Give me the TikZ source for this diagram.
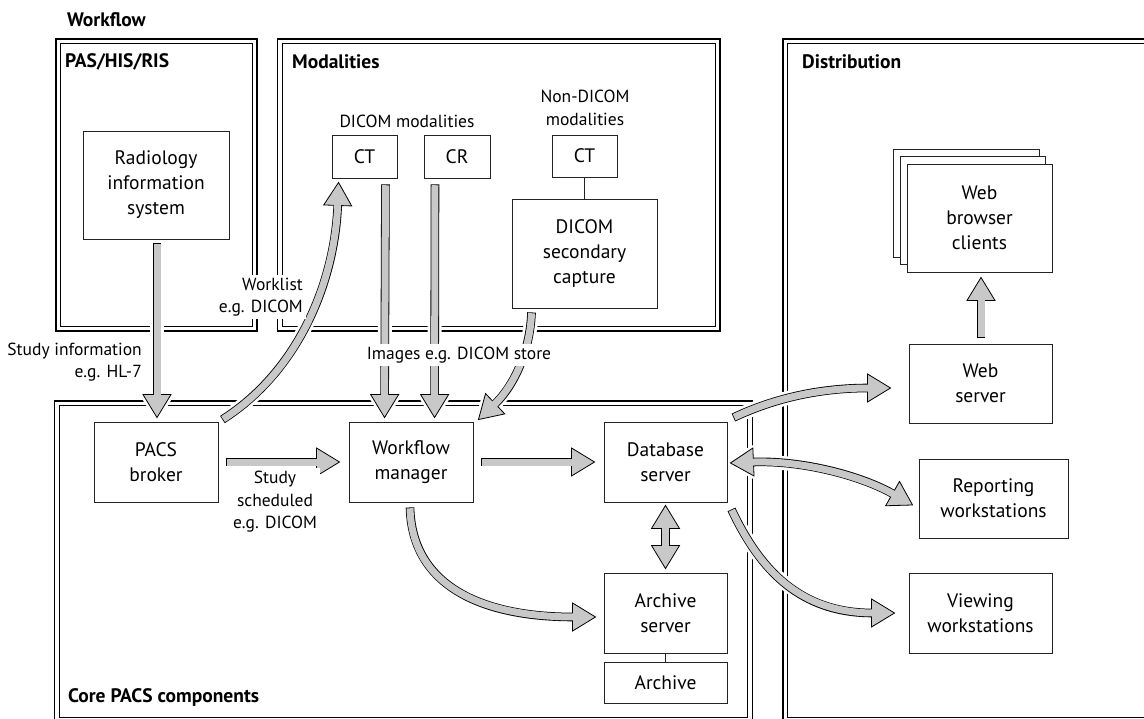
\documentclass[tikz,border=0pt]{standalone}
\usepackage{fontspec}
\setmainfont{PT Sans}
\usetikzlibrary{decorations.markings}
\definecolor{arrowgray}{RGB}{200,200,200}
\definecolor{linegray}{RGB}{35,35,35}

\newcommand\headhalo{\draw[white,line width=6pt,line join=round] (-23pt,-14pt) -- (0pt,0pt) -- (-23pt,14pt) -- cycle;}
\newcommand\headbody{\draw[fill=arrowgray,draw=black,line width=0.8pt,line join=miter] (-23pt,-14pt) -- (0pt,0pt) -- (-23pt,14pt) -- cycle;}
\newcommand\tailhalo{\draw[white,line width=6pt,line join=round] (23pt,-14pt) -- (0pt,0pt) -- (23pt,14pt) -- cycle;}
\newcommand\tailbody{\draw[fill=arrowgray,draw=black,line width=0.8pt,line join=miter] (23pt,-14pt) -- (0pt,0pt) -- (23pt,14pt) -- cycle;}

\newcommand\fatarrow[1]{%
  \path[decorate,decoration={markings,mark=at position 0.99995 with {\headhalo}}] #1;
  \draw[white,line width=14pt,shorten >=19pt] #1;
  \draw[black,line width=8.6pt,shorten >=22pt] #1;
  \path[decorate,decoration={markings,mark=at position 0.99995 with {\headbody}}] #1;
  \draw[arrowgray,line width=7pt,shorten >=20.5pt,shorten <=0.8pt] #1;
}
\newcommand\fatdarrow[1]{%
  \path[decorate,decoration={markings,mark=at position 0.00005 with {\tailhalo},mark=at position 0.99995 with {\headhalo}}] #1;
  \draw[white,line width=14pt,shorten >=19pt,shorten <=19pt] #1;
  \draw[black,line width=8.6pt,shorten >=22pt,shorten <=22pt] #1;
  \path[decorate,decoration={markings,mark=at position 0.00005 with {\tailbody},mark=at position 0.99995 with {\headbody}}] #1;
  \draw[arrowgray,line width=7pt,shorten >=20.5pt,shorten <=20.5pt] #1;
}

\begin{document}
\begin{tikzpicture}[x=1pt,y=-1pt,
  box/.style={draw=linegray,line width=0.9pt,fill=white,align=center,inner sep=0pt,font=\fontsize{19.5}{25}\selectfont},
  wh/.style 2 args={minimum width=#1pt,minimum height=#2pt},
  lbl/.style={align=center,inner sep=3pt,fill=white,font=\fontsize{17.5}{22.5}\selectfont},
  title/.style={anchor=west,inner sep=0pt,font=\bfseries\fontsize{19.5}{22}\selectfont},
  frameout/.style={draw=black,line width=1.6pt},
  framein/.style={draw=black,line width=0.8pt},
  conn/.style={draw=linegray,line width=0.9pt},
]
\useasboundingbox (0,0) rectangle (1144,719);
\clip (0,0) rectangle (1144,719);

% frames
\draw[frameout] (56,39) rectangle (257,331);
\draw[framein] (60.5,43.5) rectangle (252.5,326.5);
\draw[frameout] (277.5,39) rectangle (720,331);
\draw[framein] (282,43.5) rectangle (715.5,326.5);
\draw[frameout] (783,39) rectangle (1150,725);
\draw[framein] (787.5,43.5) rectangle (1145.5,717);
\draw[frameout] (54.5,401) rectangle (752.5,722);
\draw[framein] (59,405.5) rectangle (747.5,717);

% titles
\node[title] (tworkflow) at (67,20) {Workflow};
\node[title] (tpas) at (65,62) {PAS/HIS/RIS};
\node[title] (tmod) at (292,62) {Modalities};
\node[title] (tdist) at (802,62) {Distribution};
\node[title] (tcore) at (68,697) {Core PACS components};

% boxes
\node[box,wh={146}{108}] (rad) at (156,185) {Radiology\\information\\system};
\node[box,wh={124}{80}] (broker) at (156,462) {PACS\\broker};
\node[box,wh={124}{80}] (wm) at (411,462) {Workflow\\manager};
\node[box,wh={123}{80}] (db) at (665.5,462) {Database\\server};
\node[box,wh={123}{80}] (arch) at (665.5,613) {Archive\\server};
\node[box,wh={123}{41}] (archive) at (665.5,682.5) {Archive};
\node[box,wh={143}{79}] (web) at (980.5,383.5) {Web\\server};
\node[box,wh={149}{79}] (rep) at (993.5,498.5) {Reporting\\workstations};
\node[box,wh={143}{80}] (view) at (980.5,613) {Viewing\\workstations};
\node[box,wh={146}{108}] (wbc3) at (966,203) {};
\node[box,wh={145}{108}] (wbc2) at (972.5,210) {};
\node[box,wh={145}{108}] (wbc) at (979.5,218) {Web\\browser\\clients};
\node[box,wh={65}{43}] (ct1) at (364.5,156.5) {CT};
\node[box,wh={66}{43}] (cr) at (457,156.5) {CR};
\node[box,wh={65}{42}] (ct2) at (584.5,156) {CT};
\node[box,wh={145}{109}] (sc) at (584.5,253.5) {DICOM\\secondary\\capture};

% arrows
\fatarrow{([xshift=1pt,yshift=-4pt]rad.south) -- ([xshift=1pt,yshift=4pt]broker.north)}
\fatarrow{([xshift=4pt,yshift=2pt]broker.north east) .. controls (300,370) and (335,280) .. ([xshift=7pt,yshift=-4pt]ct1.south west)}
\fatarrow{([xshift=-12pt,yshift=-6pt]ct1.south east) -- ([xshift=36pt,yshift=4pt]wm.north west)}
\fatarrow{([xshift=-22pt,yshift=-6pt]cr.south) -- ([xshift=86pt,yshift=4pt]wm.north west)}
\fatarrow{([xshift=20pt,yshift=-4pt]sc.south west) .. controls (530,350) and (515,385) .. ([xshift=5pt,yshift=2pt]wm.north east)}
\fatarrow{([xshift=8pt]broker.east) -- ([xshift=-9pt]wm.west)}
\fatarrow{([xshift=8pt]wm.east) -- ([xshift=-9pt]db.west)}
\fatarrow{([xshift=-1pt,yshift=-5pt]wm.south) .. controls (412,585) and (480,617) .. ([xshift=-8pt,yshift=-4pt]arch.west)}
\fatdarrow{([yshift=-3pt]db.south) -- ([yshift=4pt]arch.north)}
\fatarrow{([xshift=6pt,yshift=4pt]db.north east) .. controls (775,398) and (820,388) .. ([xshift=-18pt,yshift=-4.5pt]web.west)}
\fatdarrow{([xshift=3pt,yshift=-1pt]db.east) .. controls (800,460) and (860,475) .. ([xshift=-6pt,yshift=-6.5pt]rep.west)}
\fatarrow{([xshift=4pt,yshift=-7pt]db.south east) .. controls (760,570) and (800,613) .. ([xshift=-14pt]view.west)}
\fatarrow{([xshift=0.5pt,yshift=6pt]web.north) -- ([xshift=1.5pt,yshift=-5pt]wbc.south)}

% boxes redrawn on top (outline restore)
\node[box,wh={146}{108}] at (rad) {Radiology\\information\\system};
\node[box,wh={124}{80}] at (broker) {PACS\\broker};
\node[box,wh={124}{80}] at (wm) {Workflow\\manager};
\node[box,wh={123}{80}] at (db) {Database\\server};
\node[box,wh={123}{80}] at (arch) {Archive\\server};
\node[box,wh={123}{41}] at (archive) {Archive};
\node[box,wh={143}{79}] at (web) {Web\\server};
\node[box,wh={149}{79}] at (rep) {Reporting\\workstations};
\node[box,wh={143}{80}] at (view) {Viewing\\workstations};
\node[box,wh={65}{43}] at (ct1) {CT};
\node[box,wh={66}{43}] at (cr) {CR};
\node[box,wh={65}{42}] at (ct2) {CT};
\node[box,wh={145}{109}] at (sc) {DICOM\\secondary\\capture};
\draw[conn] (ct2.south) -- (sc.north);
\draw[conn] (arch.south) -- (archive.north);

% labels
\node[lbl] (ldicom) at (407,121) {DICOM modalities};
\node[lbl] (lnondicom) at (585,108) {Non-DICOM\\modalities};
\node[lbl,align=right,anchor=east] (lworklist) at (306,297) {Worklist\\e.g. DICOM};
\node[lbl,align=right,anchor=east] (lstudy) at (145,362) {Study information\\e.g. HL-7};
\node[lbl] (limages) at (459,355) {Images e.g. DICOM store};
\node[lbl] (lsched) at (275,502) {Study\\scheduled\\e.g. DICOM};
\end{tikzpicture}
\end{document}
